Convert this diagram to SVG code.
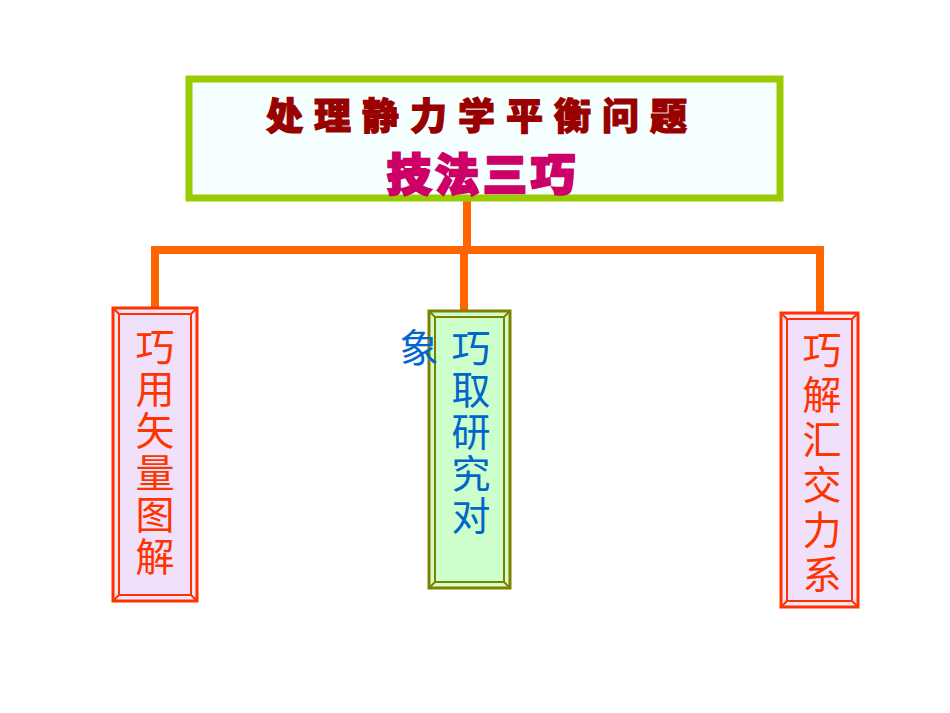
<svg xmlns="http://www.w3.org/2000/svg" width="950" height="713" viewBox="0 0 950 713">
<style>
.cjk{font-family:"Noto Sans CJK SC","Noto Sans",sans-serif;}
.conn{stroke:#ff6600;stroke-width:8;fill:none;stroke-linecap:square;}
.frame-r{fill:#f1e4fb;stroke:#ff3300;}
.frame-g{fill:#ccffcc;stroke:#808000;}
.vt-r{fill:#ff3300;font-size:39px;}
.vt-b{fill:#0066cc;font-size:39px;}
</style>
<rect width="950" height="713" fill="#ffffff"/>
<g id="connectors">
<path class="conn" d="M467,201 V250"/>
<path class="conn" d="M155,250 H820"/>
<path class="conn" d="M155,250 V308"/>
<path class="conn" d="M464,250 V310"/>
<path class="conn" d="M820,250 V312"/>
</g>
<g id="root">
<rect x="189" y="79" width="591" height="119" fill="#f5ffff" stroke="#99cc00" stroke-width="7"/>
<text class="cjk" x="266" y="130" font-size="37" font-weight="900" letter-spacing="11" fill="#990000" stroke="#990000" stroke-width="1.2">处理静力学平衡问题</text>
<text class="cjk" x="387" y="191" font-size="44" font-weight="900" letter-spacing="4" fill="#cc0066" stroke="#cc0066" stroke-width="2.5">技法三巧</text>
</g>
<g id="node-left">
<rect class="frame-r" x="113" y="308" width="84" height="293" stroke-width="3"/>
<rect x="119" y="314" width="72" height="281" fill="#f0e0fa" stroke="#ff3300" stroke-width="2"/>
<path d="M113,308 L119,314 M197,308 L191,314 M113,601 L119,595 M197,601 L191,595" stroke="#ff3300" stroke-width="2"/>
<text class="cjk vt-r" text-anchor="middle"><tspan x="155" y="361">巧</tspan><tspan x="155" y="403">用</tspan><tspan x="155" y="445">矢</tspan><tspan x="155" y="487">量</tspan><tspan x="155" y="529">图</tspan><tspan x="155" y="571">解</tspan></text>
</g>
<g id="node-middle">
<rect class="frame-g" x="429" y="311" width="81" height="277" stroke-width="3"/>
<rect x="435" y="317" width="69" height="265" fill="#ccffcc" stroke="#808000" stroke-width="2"/>
<path d="M429,311 L435,317 M510,311 L504,317 M429,588 L435,582 M510,588 L504,582" stroke="#808000" stroke-width="2"/>
<text class="cjk vt-b" text-anchor="middle"><tspan x="471" y="362">巧</tspan><tspan x="471" y="404">取</tspan><tspan x="471" y="446">研</tspan><tspan x="471" y="488">究</tspan><tspan x="471" y="530">对</tspan></text>
<text class="cjk vt-b" x="419" y="362" text-anchor="middle">象</text>
</g>
<g id="node-right">
<rect class="frame-r" x="781" y="313" width="77" height="294" stroke-width="3"/>
<rect x="787" y="319" width="65" height="282" fill="#f0e0fa" stroke="#ff3300" stroke-width="2"/>
<path d="M781,313 L787,319 M858,313 L852,319 M781,607 L787,601 M858,607 L852,601" stroke="#ff3300" stroke-width="2"/>
<text class="cjk vt-r" text-anchor="middle"><tspan x="822" y="364">巧</tspan><tspan x="822" y="409">解</tspan><tspan x="822" y="454">汇</tspan><tspan x="822" y="499">交</tspan><tspan x="822" y="544">力</tspan><tspan x="822" y="589">系</tspan></text>
</g>
</svg>
